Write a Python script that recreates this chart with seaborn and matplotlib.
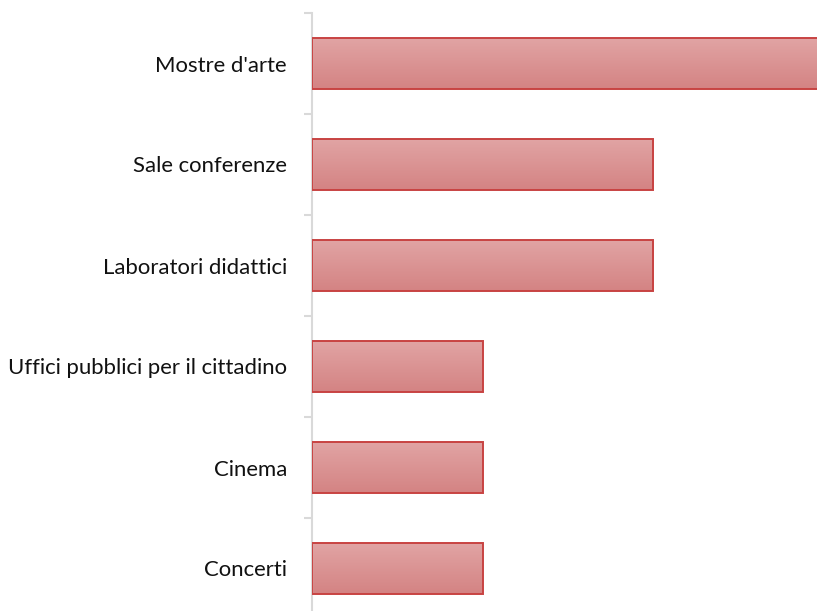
import numpy as np
import pandas as pd
import matplotlib
matplotlib.use("Agg")
import matplotlib.pyplot as plt
from matplotlib.colors import LinearSegmentedColormap
import seaborn as sns

categories = ["Mostre d'arte", "Sale conferenze", "Laboratori didattici",
              "Uffici pubblici per il cittadino", "Cinema", "Concerti"]
values = [3, 2, 2, 1, 1, 1]

df = pd.DataFrame({"categoria": categories, "valore": values})

sns.set_style("white")
plt.rcParams["font.family"] = ["Lato", "DejaVu Sans"]

W, H = 817, 611
fig = plt.figure(figsize=(W / 100, H / 100), dpi=100)
left_px, right_px, top_px, bottom_px = 312, 824, 13, 619
ax = fig.add_axes([left_px / W, (H - bottom_px) / H,
                   (right_px - left_px) / W, (bottom_px - top_px) / H])

sns.barplot(data=df, x="valore", y="categoria", orient="h", ax=ax,
            width=0.5, facecolor="none", edgecolor="#C84342", linewidth=1.4,
            zorder=3)

# vertical gradient fill inside each bar
grad = LinearSegmentedColormap.from_list("bar", ["#E1A4A4", "#D48383"])
g = np.linspace(0, 1, 256).reshape(-1, 1)
for p in ax.patches:
    x0, y0 = p.get_x(), p.get_y()
    w, h = p.get_width(), p.get_height()
    # y axis is inverted: y0 is the top of the bar on screen
    ax.imshow(g, cmap=grad, aspect="auto", origin="upper",
              extent=(x0, x0 + w, y0 + h, y0), zorder=2, interpolation="bilinear")

ax.set_xlim(0, 3)
ax.set_ylim(len(categories) - 0.5, -0.5)
ax.set_xlabel("")
ax.set_ylabel("")
ax.set_xticks([])

for s in ["top", "right", "bottom"]:
    ax.spines[s].set_visible(False)
ax.spines["left"].set_color("#D9D9D9")
ax.spines["left"].set_linewidth(1.5)

ax.set_yticks(range(len(categories)))
ax.set_yticklabels(categories, fontsize=15.9, color="#111111")
ax.tick_params(axis="y", which="major", left=True, length=0, pad=18)
ax.set_yticks(np.arange(-0.5, len(categories), 1.0), minor=True)
ax.tick_params(axis="y", which="minor", left=True, length=5.5, width=1.5,
               color="#D9D9D9", direction="out")

fig.savefig("out.png", dpi=100, facecolor="white")
